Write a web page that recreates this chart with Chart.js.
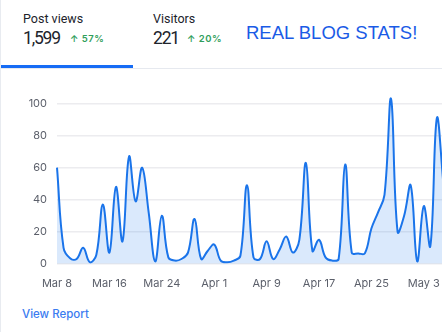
<!DOCTYPE html>
<html>

<head>
    <meta charset="utf-8">
    <title>Blog stats</title>
    <script src="https://cdn.jsdelivr.net/npm/chart.js@4.4.1/dist/chart.umd.min.js"></script>
    <style>
        html, body {
            margin: 0;
            width: 442px;
            height: 332px;
            overflow: hidden;
            background: #fff;
            font-family: Inter, "Noto Sans", sans-serif;
        }

        #card {
            position: absolute;
            left: 0;
            top: 0;
            width: 442px;
            height: 332px;
            border-left: 1px solid #e8ebf0;
        }

        .lbl {
            position: absolute;
            color: #20232b;
            white-space: nowrap;
        }

        .name {
            font-family: Roboto, sans-serif;
            font-size: 12.5px;
            line-height: 18px;
        }

        .num {
            font-family: Roboto, sans-serif;
            font-size: 17.5px;
            line-height: 22px;
            letter-spacing: -1.2px;
        }

        .up {
            font-size: 9.5px;
            line-height: 12px;
            font-weight: 600;
            color: #2f9e5b;
            letter-spacing: 0.5px;
        }

        #headline {
            position: absolute;
            left: 245px;
            top: 22px;
            font-family: "Liberation Sans", Arial, sans-serif;
            font-size: 18.5px;
            color: #1a5be6;
        }

        #tabline {
            position: absolute;
            left: 0;
            top: 68px;
            width: 442px;
            height: 1px;
            background: #e6e9ef;
        }

        #tabactive {
            position: absolute;
            left: 0;
            top: 65px;
            width: 132px;
            height: 3px;
            background: #166cf5;
        }

        #report {
            position: absolute;
            left: 21px;
            top: 307px;
            font-size: 11.5px;
            font-weight: 500;
            color: #3b7cf0;
        }

        #canvas {
            position: absolute;
            left: 0;
            top: 71px;
        }
    </style>
</head>

<body>
    <div id="card">
        <div class="lbl name" style="left:22px; top:10px">Post views</div>
        <div class="lbl num" style="left:22px; top:27px">1,599</div>
        <div class="lbl up" style="left:69px; top:33px">↑ 57%</div>
        <div class="lbl name" style="left:152px; top:10px">Visitors</div>
        <div class="lbl num" style="left:152px; top:27px">221</div>
        <div class="lbl up" style="left:186px; top:33px">↑ 20%</div>
        <div id="headline">REAL BLOG STATS!</div>
        <div id="tabline"></div>
        <div id="tabactive"></div>
        <canvas id="canvas" width="452" height="232"></canvas>
        <div id="report">View Report</div>
    </div>

    <script>
        // daily post views, Mar 8 to May 6
        const months = ['Mar', 'Apr', 'May'];
        const monthDays = [31, 30, 31];
        const firstDay = 8;
        const postViews = [
            60, 10, 3.5, 3, 10, 1, 5.5, 37, 7, 48,
            14, 67, 39, 60, 32, 1.5, 30, 4, 2, 3,
            7, 28, 3, 8, 12, 2, 1, 2, 5, 49,
            4, 3, 14, 3, 9, 17, 7, 15, 63, 8,
            15, 4, 2, 3, 62, 7, 6.5, 6.5, 22, 32,
            43, 103, 20, 30, 49, 1.5, 36, 11, 91, 50
        ];
        const yTicks = [0, 20, 40, 60, 80, 100];

        // build "Mar 8" style labels for each day
        const labels = [];
        let m = 0, d = firstDay;
        for (let i = 0; i < postViews.length; i++) {
            labels.push(months[m] + ' ' + d);
            d++;
            if (d > monthDays[m]) { d = 1; m++; }
        }

        const tickColor = '#5b5f6a';

        new Chart(document.getElementById('canvas'), {
            type: 'line',
            data: {
                labels: labels,
                datasets: [{
                    data: postViews,
                    borderColor: '#1a74ea',
                    borderWidth: 2,
                    backgroundColor: 'rgba(26,116,234,0.16)',
                    fill: 'origin',
                    tension: 0.4,
                    pointRadius: 0
                }]
            },
            options: {
                responsive: false,
                animation: false,
                layout: { padding: { top: 7, right: 4, left: 0, bottom: 0 } },
                plugins: {
                    legend: { display: false },
                    tooltip: { enabled: false }
                },
                scales: {
                    x: {
                        grid: { display: false, drawTicks: false },
                        border: { display: false },
                        ticks: {
                            autoSkip: false,
                            maxRotation: 0,
                            padding: 13,
                            color: tickColor,
                            font: { family: 'Inter', size: 11 },
                            callback: function (v, i) {
                                return i % 8 === 0 ? labels[i] : null;
                            }
                        }
                    },
                    y: {
                        min: 0,
                        max: 110,
                        afterBuildTicks: function (s) {
                            s.ticks = yTicks.map(v => ({ value: v }));
                        },
                        afterFit: function (s) { s.width = 56; },
                        grid: { color: '#ececef', lineWidth: 1.5, drawTicks: false },
                        border: { display: false },
                        ticks: {
                            padding: 10,
                            color: tickColor,
                            font: { family: 'Inter', size: 11 }
                        }
                    }
                }
            }
        });
    </script>
</body>

</html>
